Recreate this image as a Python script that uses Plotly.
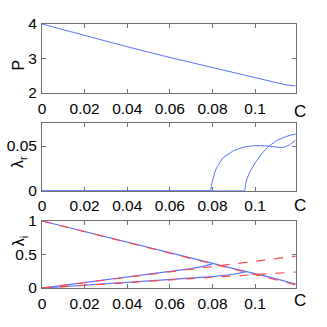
"""Three stacked panels: P, lambda_r and lambda_i against C."""
import plotly.graph_objects as go
from plotly.subplots import make_subplots

# ── Data ─────────────────────────────────────────────────────────────────────
c_p = [0, 0.02, 0.04, 0.06, 0.08, 0.1, 0.11, 0.115, 0.119]
p_vals = [4.0, 3.66, 3.34, 3.03, 2.73, 2.43, 2.30, 2.23, 2.21]

c_re1 = [0, 0.0792, 0.0795, 0.080, 0.081, 0.082, 0.085, 0.09, 0.095, 0.1, 0.103,
         0.106, 0.11, 0.113, 0.116, 0.119]
re1 = [0, 0, 0.006, 0.012, 0.020, 0.026, 0.037, 0.045, 0.049, 0.0505, 0.0505,
       0.0500, 0.0488, 0.0483, 0.051, 0.0565]
c_re2 = [0, 0.0952, 0.0955, 0.096, 0.097, 0.098, 0.1, 0.103, 0.106, 0.11, 0.115, 0.119]
re2 = [0, 0, 0.007, 0.012, 0.018, 0.023, 0.031, 0.041, 0.049, 0.056, 0.061, 0.0635]

c_im_down = [0, 0.02, 0.04, 0.06, 0.08, 0.09, 0.096, 0.1, 0.11, 0.119]
im_down = [1.0, 0.84, 0.68, 0.52, 0.36, 0.29, 0.245, 0.215, 0.135, 0.06]
c_im_up1 = [0, 0.02, 0.04, 0.06, 0.07, 0.075, 0.08]
im_up1 = [0, 0.08, 0.16, 0.245, 0.29, 0.318, 0.36]
c_im_up2 = [0, 0.01, 0.02, 0.04, 0.06, 0.08, 0.09, 0.096]
im_up2 = [0, 0.02, 0.04, 0.08, 0.125, 0.17, 0.205, 0.245]

c_ref = [0, 0.119]
ref_down = [1.0, 0.048]
ref_4c = [0, 0.476]
ref_2c = [0, 0.238]

x_ticks = [0, 0.02, 0.04, 0.06, 0.08, 0.1]
x_ticktext = ["0", "0.02", "0.04", "0.06", "0.08", "0.1"]

BLUE = "#5a72ff"
RED = "#ff4a4a"
FRAME = "#707070"
FONT = "Liberation Sans, Arial, sans-serif"

fig = make_subplots(rows=3, cols=1)

fig.add_trace(go.Scatter(x=c_p, y=p_vals, mode="lines",
                         line=dict(color=BLUE, width=1)), row=1, col=1)

fig.add_trace(go.Scatter(x=c_re1, y=re1, mode="lines",
                         line=dict(color=BLUE, width=1)), row=2, col=1)
fig.add_trace(go.Scatter(x=c_re2, y=re2, mode="lines",
                         line=dict(color=BLUE, width=1)), row=2, col=1)

for cx, cy in [(c_im_down, im_down), (c_im_up1, im_up1), (c_im_up2, im_up2)]:
    fig.add_trace(go.Scatter(x=cx, y=cy, mode="lines",
                             line=dict(color=BLUE, width=1.2)), row=3, col=1)
for ry in [ref_down, ref_4c, ref_2c]:
    fig.add_trace(go.Scatter(x=c_ref, y=ry, mode="lines",
                             line=dict(color=RED, width=1.2, dash="dash")),
                  row=3, col=1)

axis_style = dict(showline=True, mirror="ticks", linecolor=FRAME, linewidth=1,
                  ticks="inside", ticklen=4, tickcolor=FRAME, showgrid=False,
                  zeroline=False, automargin=False,
                  tickfont=dict(family=FONT, size=15.5, color="black"))

domains = [[0.7156, 0.9266], [0.4168, 0.6229], [0.1193, 0.3242]]
y_ranges = [[2, 4], [0, 0.0754], [0, 1]]
y_ticks = [[2, 3, 4], [0, 0.05], [0, 0.5, 1]]
y_ticktext = [["2", "3", "4"], ["0", "0.05"], ["0", "0.5", "1"]]

for i in range(3):
    fig.update_xaxes(range=[0, 0.1192], tickvals=x_ticks, ticktext=x_ticktext,
                     ticklabelstandoff=1, **axis_style, row=i + 1, col=1)
    fig.update_yaxes(range=y_ranges[i], tickvals=y_ticks[i], ticktext=y_ticktext[i],
                     domain=domains[i], ticklabelstandoff=1, **axis_style,
                     row=i + 1, col=1)

# Axis labels, placed like the original figure
for text, y in [("P", 0.823), ("λ<sub>r</sub>", 0.505), ("λ<sub>i</sub>", 0.24)]:
    fig.add_annotation(text=text, xref="paper", yref="paper", x=-0.135, y=y,
                       showarrow=False, textangle=-90,
                       font=dict(family=FONT, size=16, color="black"))
for y in [0.6575, 0.373, 0.046]:
    fig.add_annotation(text="C", xref="paper", yref="paper", x=1.047, y=y,
                       showarrow=False, font=dict(family=FONT, size=17, color="black"))

fig.update_layout(width=327, height=327, showlegend=False,
                  plot_bgcolor="white", paper_bgcolor="white",
                  margin=dict(l=42, r=31, t=0, b=0))

# drop the browser's default 8px body margin so the figure sits at the corner
fig.write_html("out.html", config={"displayModeBar": False},
               post_script="document.body.style.margin = '0';")
